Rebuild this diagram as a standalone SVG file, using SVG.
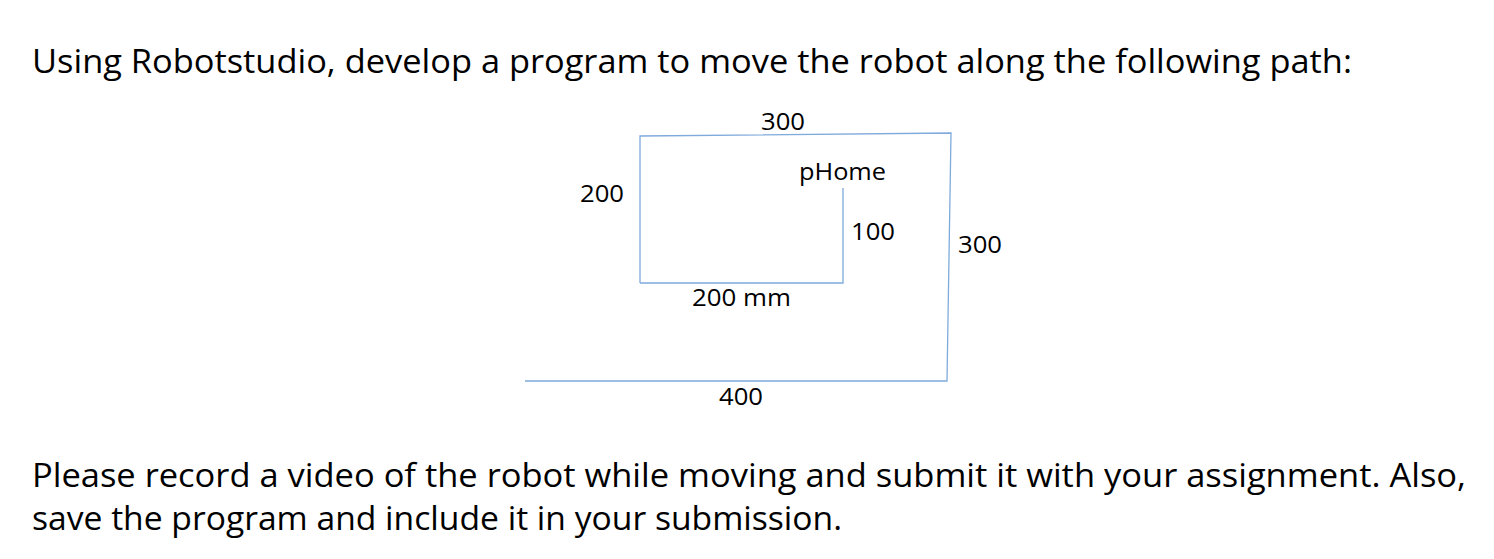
<svg xmlns="http://www.w3.org/2000/svg" width="1494" height="559" viewBox="0 0 1494 559">
<style>
.t{font-family:"Open Sans","Liberation Sans",sans-serif;fill:#000}
.big{font-size:33px}
.sm{font-size:23px}
.ln{stroke:#7faadc;stroke-width:1.3;fill:none}
</style>
<rect width="1494" height="559" fill="#fff"/>
<g id="connectors">
<path class="ln" d="M640,283 L640,136 L951,133 L947,381 L525,381"/>
<path class="ln" d="M640,283 L843,283 L843,188"/>
</g>
<g id="texts">
<text class="t big" x="32" y="73" textLength="1320" lengthAdjust="spacingAndGlyphs">Using Robotstudio, develop a program to move the robot along the following path:</text>
<text class="t sm" x="761" y="130" textLength="44" lengthAdjust="spacingAndGlyphs">300</text>
<text class="t sm" x="799" y="180" textLength="87" lengthAdjust="spacingAndGlyphs">pHome</text>
<text class="t sm" x="580" y="202" textLength="44" lengthAdjust="spacingAndGlyphs">200</text>
<text class="t sm" x="851" y="240" textLength="44" lengthAdjust="spacingAndGlyphs">100</text>
<text class="t sm" x="958" y="253" textLength="44" lengthAdjust="spacingAndGlyphs">300</text>
<text class="t sm" x="692" y="306" textLength="99" lengthAdjust="spacingAndGlyphs">200 mm</text>
<text class="t sm" x="719" y="405" textLength="44" lengthAdjust="spacingAndGlyphs">400</text>
<text class="t big" x="32" y="487" textLength="1434" lengthAdjust="spacingAndGlyphs">Please record a video of the robot while moving and submit it with your assignment. Also,</text>
<text class="t big" x="32" y="530" textLength="810" lengthAdjust="spacingAndGlyphs">save the program and include it in your submission.</text>
</g>
</svg>
